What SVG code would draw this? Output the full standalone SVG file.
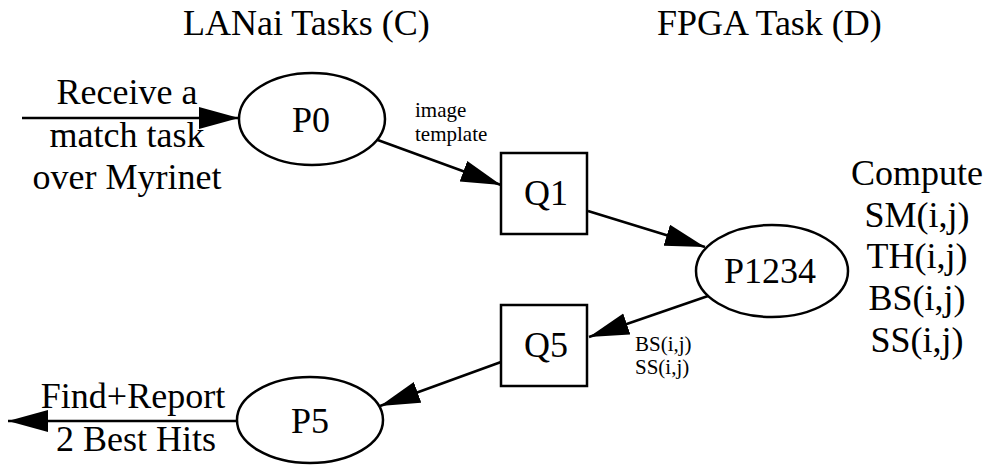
<svg xmlns="http://www.w3.org/2000/svg" width="990" height="469" viewBox="0 0 990 469">
  <style>
    .big { font-family: "Liberation Serif", "Times New Roman", serif; font-size: 36px; fill: #000; }
    .small { font-family: "Liberation Serif", "Times New Roman", serif; font-size: 21px; fill: #000; }
    .mid { text-anchor: middle; }
    .shape { fill: #fff; stroke: #000; stroke-width: 2.5; }
    .edge { fill: none; stroke: #000; stroke-width: 2.5; marker-end: url(#arrow); }
  </style>
  <defs>
    <marker id="arrow" markerUnits="userSpaceOnUse" markerWidth="40" markerHeight="24" refX="40" refY="11" orient="auto">
      <path d="M0,0 L40,11 L0,22 z" fill="#000"/>
    </marker>
  </defs>

  <rect width="990" height="469" fill="#fff"/>

  <!-- column headings -->
  <text class="big" x="183" y="35">LANai Tasks (C)</text>
  <text class="big" x="657" y="35">FPGA Task (D)</text>

  <!-- connectors -->
  <g id="connectors">
    <line class="edge" x1="22" y1="118" x2="239" y2="118"/>
    <line class="edge" x1="375" y1="139" x2="501" y2="185"/>
    <line class="edge" x1="588" y1="211" x2="705" y2="247"/>
    <line class="edge" x1="708" y1="296" x2="589" y2="337"/>
    <line class="edge" x1="501" y1="362" x2="380" y2="406"/>
    <line class="edge" x1="237" y1="421" x2="8" y2="421"/>
  </g>

  <!-- connector labels -->
  <g id="labels">
    <text class="big mid" x="127" y="104">Receive a</text>
    <text class="big mid" x="127" y="147">match task</text>
    <text class="big mid" x="127" y="189">over Myrinet</text>
    <text class="small" x="415" y="117">image</text>
    <text class="small" x="415" y="141">template</text>
    <text class="small" x="635" y="351">BS(i,j)</text>
    <text class="small" x="635" y="374">SS(i,j)</text>
    <text class="big mid" x="133" y="408">Find+Report</text>
    <text class="big mid" x="136" y="451">2 Best Hits</text>
    <text class="big mid" x="917" y="185">Compute</text>
    <text class="big mid" x="917" y="227">SM(i,j)</text>
    <text class="big mid" x="917" y="268">TH(i,j)</text>
    <text class="big mid" x="917" y="310">BS(i,j)</text>
    <text class="big mid" x="917" y="352">SS(i,j)</text>
  </g>

  <!-- nodes -->
  <g id="P0">
    <ellipse class="shape" cx="312" cy="119" rx="73" ry="46"/>
    <text class="big mid" x="311" y="132">P0</text>
  </g>
  <g id="Q1">
    <rect class="shape" x="501" y="153" width="86" height="81"/>
    <text class="big mid" x="546" y="205">Q1</text>
  </g>
  <g id="P1234">
    <ellipse class="shape" cx="772" cy="271" rx="76" ry="46"/>
    <text class="big mid" x="770" y="283">P1234</text>
  </g>
  <g id="Q5">
    <rect class="shape" x="501" y="305" width="86" height="81"/>
    <text class="big mid" x="546" y="357">Q5</text>
  </g>
  <g id="P5">
    <ellipse class="shape" cx="310" cy="420" rx="73" ry="43"/>
    <text class="big mid" x="310" y="433">P5</text>
  </g>
</svg>
